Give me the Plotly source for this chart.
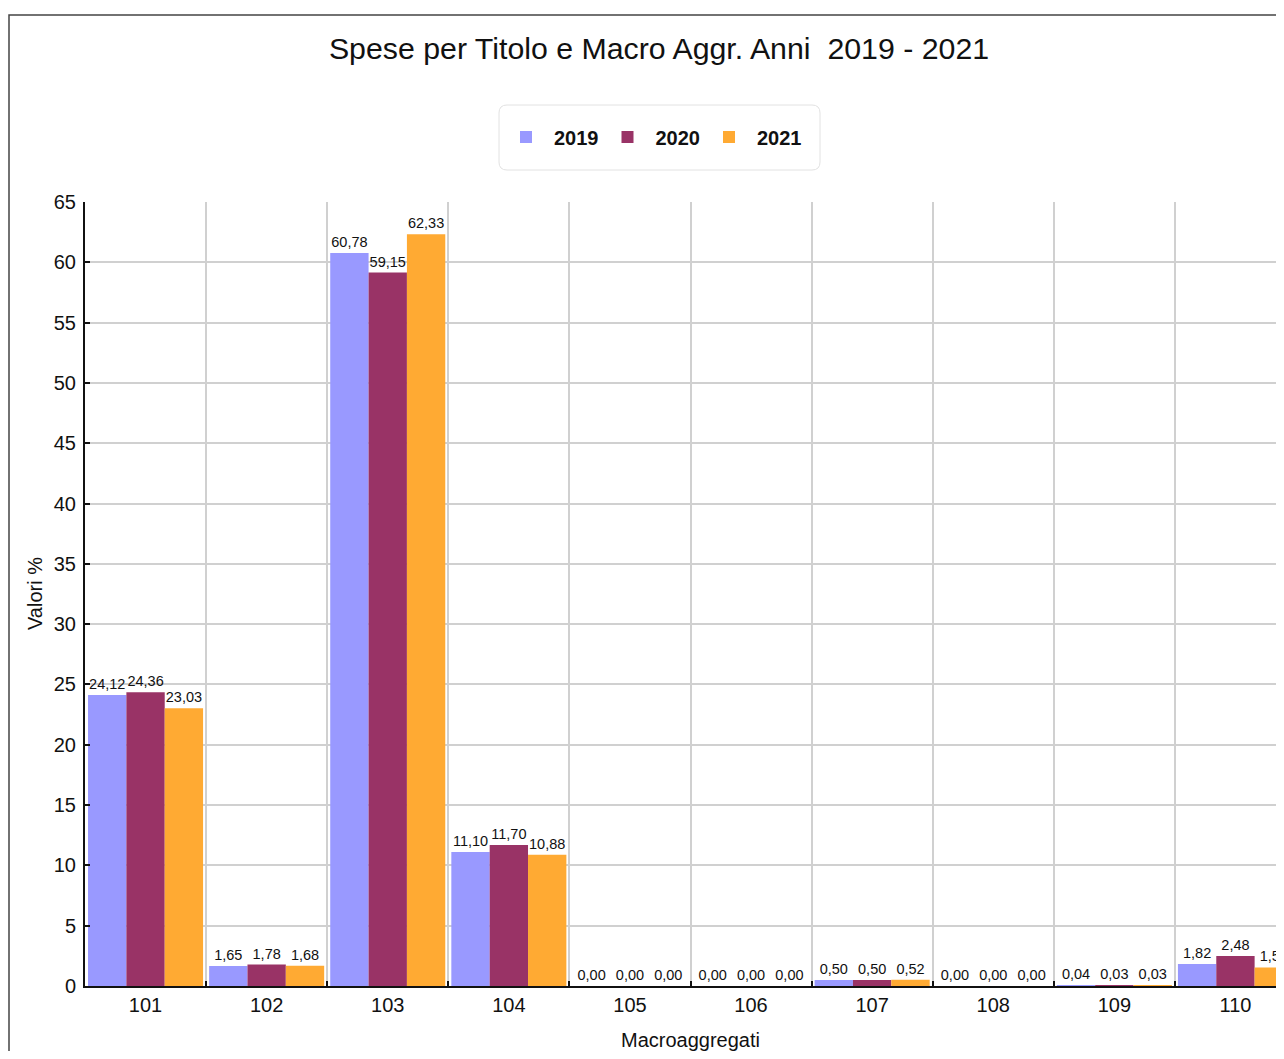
import plotly.graph_objects as go

categories = ["101", "102", "103", "104", "105", "106", "107", "108", "109", "110"]
years = ["2019", "2020", "2021"]
values_2019 = [24.12, 1.65, 60.78, 11.10, 0.00, 0.00, 0.50, 0.00, 0.04, 1.82]
values_2020 = [24.36, 1.78, 59.15, 11.70, 0.00, 0.00, 0.50, 0.00, 0.03, 2.48]
values_2021 = [23.03, 1.68, 62.33, 10.88, 0.00, 0.00, 0.52, 0.00, 0.03, 1.54]
colors = ["#9999FF", "#993366", "#FFAA33"]

W, H = 1276, 1043
ML, MR, MT, MB = 77, 0, 194, 65
PW = W - ML - MR
PH = H - MT - MB
CAT_W = 121.1

def px_x(fx):
    return (fx - ML) / PW

def px_y(fy):
    return (H - MB - fy) / PH

fig = go.Figure()
for name, vals, col in zip(years, [values_2019, values_2020, values_2021], colors):
    fig.add_trace(go.Bar(
        x=categories, y=vals, name=name,
        marker=dict(color=col, line=dict(width=0)),
        texttemplate="%{y:.2f}", textposition="outside",
        textfont=dict(family="Liberation Sans, Arial", size=14.5, color="#111"),
        constraintext="none", cliponaxis=True,
    ))

# rounded legend box
x0, x1 = px_x(491), px_x(812)
y1, y0 = px_y(97), px_y(162)
rx, ry = 8 / PW, 8 / PH
path = (f"M {x0+rx},{y1} L {x1-rx},{y1} Q {x1},{y1} {x1},{y1-ry} "
        f"L {x1},{y0+ry} Q {x1},{y0} {x1-rx},{y0} L {x0+rx},{y0} "
        f"Q {x0},{y0} {x0},{y0+ry} L {x0},{y1-ry} Q {x0},{y1} {x0+rx},{y1} Z")
shapes = [
    dict(type="path", path=path, xref="paper", yref="paper",
         line=dict(color="#e2e2e2", width=1), fillcolor="rgba(0,0,0,0)", layer="below"),
    dict(type="rect", xref="paper", yref="paper", x0=px_x(1), x1=1.5, y0=-0.3, y1=px_y(7),
         line=dict(color="#444", width=1.5), fillcolor="rgba(0,0,0,0)", layer="below"),
]

fig.update_layout(
    width=W, height=H,
    margin=dict(l=ML, r=MR, t=MT, b=MB, pad=0),
    paper_bgcolor="white", plot_bgcolor="white",
    separators=",.",
    font=dict(family="Liberation Sans, Arial", color="#111", size=20),
    barmode="group", bargap=0.05, bargroupgap=0,
    title=dict(text="Spese per Titolo e Macro Aggr. Anni\u00a0 2019 - 2021",
               x=651 / W, xanchor="center", y=1 - 40 / H, yanchor="middle",
               xref="container", yref="container",
               font=dict(size=30.3, color="#111")),
    showlegend=True,
    legend=dict(orientation="h", xref="container", yref="container",
                x=490 / W, xanchor="left", y=1 - 129 / H, yanchor="middle",
                bgcolor="rgba(0,0,0,0)", borderwidth=0,
                font=dict(size=20, weight="bold", color="#111"),
                itemwidth=46,
                entrywidth=40.5, entrywidthmode="pixels"),
    xaxis=dict(type="category", range=[-0.5, -0.5 + PW / CAT_W],
               showline=True, linecolor="#111", linewidth=2,
               ticks="inside", tickson="boundaries", ticklen=5, tickwidth=2, tickcolor="#111",
               showgrid=True, gridcolor="#d0d0d0", gridwidth=2,
               tickfont=dict(size=20, color="#111"), zeroline=False),
    yaxis=dict(range=[0, 65], dtick=5, tick0=0,
               showline=True, linecolor="#111", linewidth=2,
               ticks="inside", ticklen=5, tickwidth=2, tickcolor="#111",
               showgrid=True, gridcolor="#d0d0d0", gridwidth=2,
               tickfont=dict(size=20, color="#111"), zeroline=False,
               ticklabelstandoff=3),
    shapes=shapes,
    annotations=[
        dict(text="Macroaggregati", xref="paper", yref="paper",
             x=px_x(690.5 - 8), y=px_y(1040 - 8), xanchor="center", yanchor="middle",
             showarrow=False, font=dict(size=20, color="#111")),
        dict(text="Valori %", xref="paper", yref="paper",
             x=px_x(35 - 8), y=0.5, xanchor="center", yanchor="middle", textangle=-90,
             showarrow=False, font=dict(size=20, color="#111")),
    ],
)

fig.write_html("out.html")
